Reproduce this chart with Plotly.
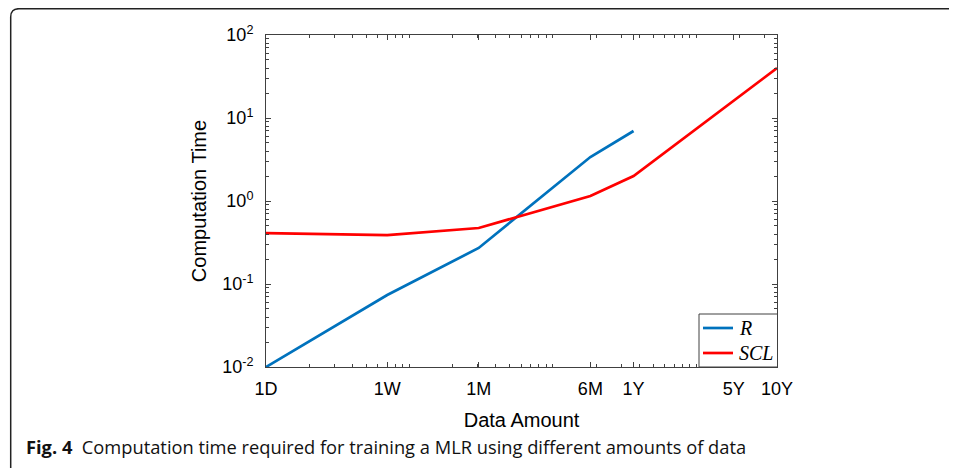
import numpy as np
import plotly.graph_objects as go

# ---- data ----
tick_days = [1, 7, 30.4, 182.5, 365, 1825, 3650]
tick_labels = ["1D", "1W", "1M", "6M", "1Y", "5Y", "10Y"]

r_days = [1, 7, 30.4, 182.5, 365]
r_time = [0.01, 0.0736, 0.272, 3.39, 6.97]

scl_days = [1, 7, 30.4, 182.5, 365, 3650]
scl_time = [0.41, 0.389, 0.473, 1.15, 2.0, 40.0]

y_tickvals = [0.01, 0.1, 1, 10, 100]
y_ticktext = ["10<sup>-2</sup>", "10<sup>-1</sup>", "10<sup>0</sup>", "10<sup>1</sup>", "10<sup>2</sup>"]

series_names = ["R", "SCL"]
series_colors = ["#0072BD", "#FF0000"]

# page body has an 8px margin, so the figure is laid out in shifted coordinates
OFF = 8
W, H = 957 - OFF, 468 - OFF
L, T = 266 - OFF, 35 - OFF
PR, PB = 777 - OFF, 367 - OFF
R, B = W - PR, H - PB
pw, ph = PR - L, PB - T


def xp(px):  # reference pixel -> paper
    return (px - OFF - L) / pw


def yp(py):
    return (PB - (py - OFF)) / ph


minor_y = [m * 10.0 ** e for e in range(-2, 2) for m in range(2, 10)]
minor_x = [m * 10.0 ** e for e in range(0, 4) for m in range(1, 10) if m * 10.0 ** e <= 3650]

fig = go.Figure()
fig.add_trace(go.Scatter(x=r_days, y=r_time, mode="lines", name=series_names[0],
                         line=dict(color=series_colors[0], width=2.7)))
fig.add_trace(go.Scatter(x=scl_days, y=scl_time, mode="lines", name=series_names[1],
                         line=dict(color=series_colors[1], width=2.7)))

AX = "#404040"
axis_common = dict(showline=True, linecolor=AX, linewidth=1, mirror="ticks",
                   ticks="inside", ticklen=5, tickcolor=AX, showgrid=False,
                   zeroline=False, tickfont=dict(family="Liberation Sans, Arial", size=18, color="black"))

fig.update_xaxes(type="log", range=[0, np.log10(3650)], tickmode="array",
                 tickvals=tick_days, ticktext=tick_labels, ticklabelstandoff=5,
                 minor=dict(ticks="inside", ticklen=3, tickcolor=AX, tickmode="array", tickvals=minor_x),
                 title=dict(text="Data Amount", font=dict(family="Liberation Sans, Arial", size=20, color="black"),
                            standoff=15),
                 **axis_common)
fig.update_yaxes(type="log", range=[-2, 2], tickmode="array",
                 tickvals=y_tickvals, ticktext=y_ticktext, ticklabelstandoff=8,
                 minor=dict(ticks="inside", ticklen=3, tickcolor=AX, tickmode="array", tickvals=minor_y),
                 title=dict(text="Computation Time", font=dict(family="Liberation Sans, Arial", size=20, color="black"),
                            standoff=10),
                 **axis_common)

fig.update_layout(
    width=W, height=H,
    margin=dict(l=L, r=R, t=T, b=B),
    plot_bgcolor="white", paper_bgcolor="white",
    showlegend=False,
)

# legend box (drawn manually to match the compact MATLAB legend)
fig.add_shape(type="rect", xref="paper", yref="paper",
              x0=xp(699), x1=xp(777.5), y0=yp(367), y1=yp(314),
              fillcolor="white", line=dict(color=AX, width=1), layer="above")
for i, (nm, col) in enumerate(zip(series_names, series_colors)):
    yy = 328 + i * 25
    fig.add_shape(type="line", xref="paper", yref="paper",
                  x0=xp(703), x1=xp(733), y0=yp(yy), y1=yp(yy),
                  line=dict(color=col, width=2.7), layer="above")
    fig.add_annotation(x=xp(737), y=yp(yy), xref="paper", yref="paper",
                       xanchor="left", yanchor="middle", showarrow=False,
                       text=f"<i>{nm}</i>",
                       font=dict(family="Liberation Serif, DejaVu Serif", size=20, color="black"))

# panel frame (top and left edges with rounded corner)
path = (f"M {xp(960)},{yp(8.7)} L {xp(19)},{yp(8.7)} "
        f"Q {xp(10.7)},{yp(8.7)} {xp(10.7)},{yp(17)} L {xp(10.7)},{yp(470)}")
fig.add_shape(type="path", path=path, xref="paper", yref="paper",
              line=dict(color="#222222", width=1.5))

fig.add_annotation(x=xp(24), y=yp(447), xref="paper", yref="paper",
                   xanchor="left", yanchor="middle", showarrow=False,
                   text="<b>Fig. 4</b>  Computation time required for training a MLR using different amounts of data",
                   font=dict(family="Open Sans, Noto Sans", size=18.3, color="#111111"))

fig.write_html("out.html")
